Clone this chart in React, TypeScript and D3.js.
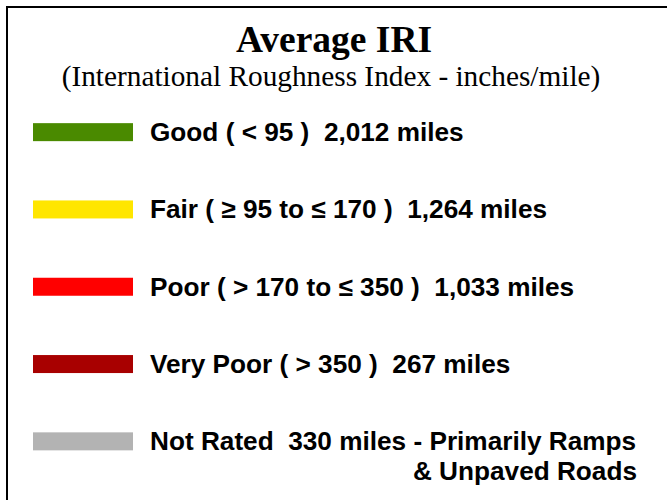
import React from 'react';
import * as d3 from 'd3';

// legend content
const categories = ['Good', 'Fair', 'Poor', 'Very Poor', 'Not Rated'];
const ranges = ['( < 95 )', '( \u2265 95 to \u2264 170 )', '( > 170 to \u2264 350 )', '( > 350 )', ''];
const miles = [2012, 1264, 1033, 267, 330];
const notes = ['', '', '', '', '- Primarily Ramps'];
const noteLine2 = ['', '', '', '', '& Unpaved Roads'];
const colors = ['#4a8a00', '#ffe600', '#ff0000', '#a80000', '#b3b3b3'];

const W = 667;
const H = 500;

export default function App() {
  const y = d3.scaleBand<number>()
    .domain(d3.range(categories.length))
    .range([93.5, 480])
    .paddingInner(0);
  const fmt = d3.format(',');
  const sans = "'Liberation Sans', Arial, sans-serif";
  const serif = "'Liberation Serif', 'Times New Roman', serif";

  return (
    <svg width={W} height={H} style={{ display: 'block', position: 'absolute', left: 0, top: 0 }}>
      <rect x={0} y={0} width={W} height={H} fill="#fff" />
      <path d="M7,500 V7 H667" fill="none" stroke="#000" strokeWidth={2} />
      <text x={334} y={52} textAnchor="middle" fontFamily={serif} fontWeight="bold" fontSize={37.5}>
        Average IRI
      </text>
      <text x={331} y={86} textAnchor="middle" fontFamily={serif} fontSize={29.3}>
        (International Roughness Index - inches/mile)
      </text>
      {categories.map((c, i) => {
        const cy = (y(i) as number) + y.bandwidth() / 2;
        const label = [c, ranges[i]].filter(s => s).join(' ') + '  ' + fmt(miles[i]) + ' miles' + (notes[i] ? ' ' + notes[i] : '');
        return (
          <g key={c}>
            <rect x={33} y={cy - 9} width={100} height={18} fill={colors[i]} />
            <text x={150} y={cy + 9} fontFamily={sans} fontWeight="bold" fontSize={26.2} style={{ whiteSpace: 'pre' }}>
              {label}
            </text>
            {noteLine2[i] && (
              <text x={637} y={cy + 39} textAnchor="end" fontFamily={sans} fontWeight="bold" fontSize={26.2}>
                {noteLine2[i]}
              </text>
            )}
          </g>
        );
      })}
    </svg>
  );
}
